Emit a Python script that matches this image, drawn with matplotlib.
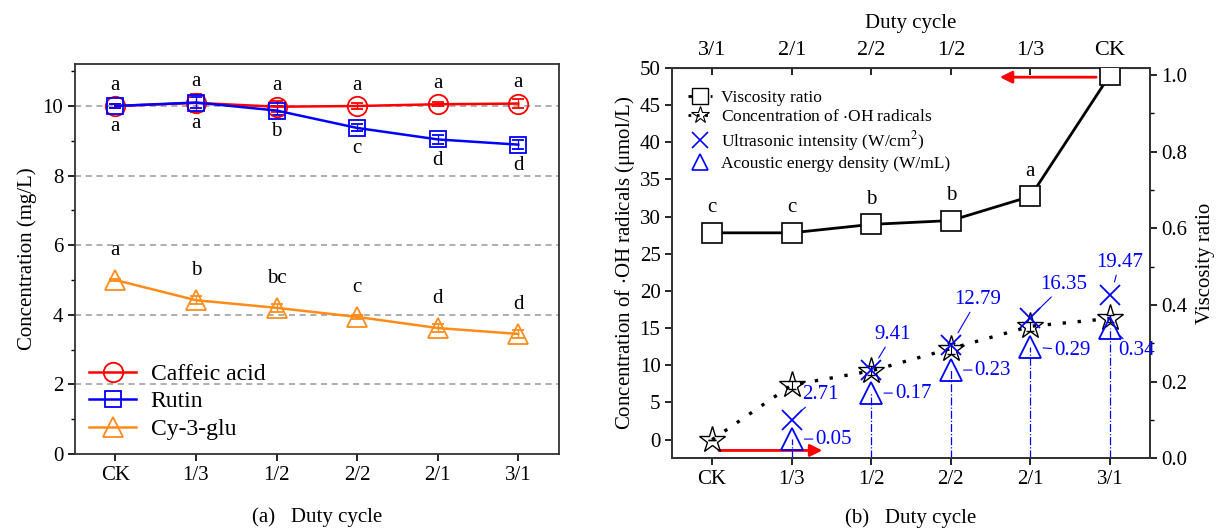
import numpy as np
import matplotlib
matplotlib.use("Agg")
import matplotlib.pyplot as plt
from matplotlib.lines import Line2D

plt.rcParams['font.family'] = ['Liberation Serif', 'DejaVu Serif']
plt.rcParams['mathtext.fontset'] = 'stix'

# ---------- data: panel (a) ----------
duty = ['CK', '1/3', '1/2', '2/2', '2/1', '3/1']
caffeic = [10.0, 10.09, 9.98, 10.0, 10.05, 10.07]
caffeic_err = [0.05, 0.25, 0.15, 0.08, 0.06, 0.12]
rutin = [10.0, 10.1, 9.87, 9.37, 9.04, 8.89]
rutin_err = [0.05, 0.15, 0.12, 0.1, 0.12, 0.12]
cy3glu = [5.0, 4.42, 4.2, 3.94, 3.62, 3.45]
cy3glu_err = [0.03, 0.12, 0.12, 0.05, 0.12, 0.12]
caffeic_letters = ['a', 'a', 'a', 'a', 'a', 'a']
rutin_letters = ['a', 'a', 'b', 'c', 'd', 'd']
cy_letters = ['a', 'b', 'bc', 'c', 'd', 'd']

# ---------- data: panel (b) ----------
duty_top = ['3/1', '2/1', '2/2', '1/2', '1/3', 'CK']
viscosity = [0.588, 0.588, 0.61, 0.62, 0.683, 1.0]
viscosity_err = [0.015, 0.015, 0.0, 0.015, 0.015, 0.01]
visc_letters = ['c', 'c', 'b', 'b', 'a', '']
oh_conc = [0.0, 7.35, 9.25, 12.25, 15.25, 16.3]
oh_err = [0.0, 0.5, 0.6, 0.7, 0.6, 0.5]
intensity = [np.nan, 2.71, 9.41, 12.79, 16.35, 19.47]
energy = [np.nan, 0.05, 0.17, 0.23, 0.29, 0.34]

fig = plt.figure(figsize=(12.18, 5.31), dpi=100)

# ================= (a) =================
ax = fig.add_axes([0.0616, 0.145, 0.397, 0.734])
x = np.arange(len(duty))
for yv in [2, 4, 6, 8, 10]:
    ax.axhline(yv, color='#999999', ls=(0, (4, 3)), lw=1.1, zorder=0)

series = [(caffeic, caffeic_err, 'red', 'o', 'Caffeic acid'),
          (rutin, rutin_err, 'blue', 's', 'Rutin'),
          (cy3glu, cy3glu_err, '#ff8c1a', '^', 'Cy-3-glu')]
for vals, err, c, m, lab in series:
    ax.errorbar(x, vals, yerr=err, color=c, marker=m, ms=14 if m != 's' else 12,
                mfc='none', mew=1.3, lw=1.8, capsize=4, elinewidth=0.9,
                label=lab, zorder=3)

for xi, v, t in zip(x, caffeic, caffeic_letters):
    ax.text(xi, v + 0.6, t, ha='center', va='center', fontsize=15)
for xi, v, t in zip(x, rutin, rutin_letters):
    ax.text(xi, v - 0.6, t, ha='center', va='center', fontsize=15)
for xi, v, t in zip(x, cy3glu, cy_letters):
    ax.text(xi, v + 0.85, t, ha='center', va='center', fontsize=15)

ax.set_xlim(-0.5, 5.5)
ax.set_ylim(0, 11.2)
ax.set_xticks(x, duty)
ax.set_yticks([0, 2, 4, 6, 8, 10])
ax.set_yticks([1, 3, 5, 7, 9, 11], minor=True)
ax.tick_params(labelsize=15, width=1.2, length=5)
ax.tick_params(which='minor', length=3, width=1.0)
ax.set_ylabel('Concentration (mg/L)', fontsize=15)
ax.set_xlabel('(a)   Duty cycle', fontsize=15, labelpad=16)
for s in ax.spines.values():
    s.set_linewidth(1.3)
    s.set_color('#333333')
handles = [Line2D([], [], color=c, marker=m, ms=14 if m != 's' else 12, mfc='none',
                  mew=1.3, lw=1.8) for _, _, c, m, _ in series]
ax.legend(handles, [s[4] for s in series], loc='lower left', frameon=False,
          fontsize=17, handlelength=2.0, labelspacing=0.25, handletextpad=0.6,
          borderaxespad=0.2, bbox_to_anchor=(0.0, 0.0))

# ================= (b) =================
axb = fig.add_axes([0.552, 0.137, 0.392, 0.735])
axr = axb.twinx()

# vertical dash-dot guides down from triangles
for xi, e in zip(x, energy):
    if not np.isnan(e):
        axr.plot([xi, xi], [0, e], color='blue', ls='-.', lw=0.9, zorder=1)

axb.errorbar(x, oh_conc, yerr=oh_err, color='black', marker='*', ms=20,
             mfc='none', mew=1.0, ls=(0, (1, 3.5)), lw=2.4, capsize=3,
             elinewidth=0.8, zorder=4)
axb.plot(x, intensity, ls='none', marker='x', ms=15, mew=1.3, color='blue', zorder=5)

# viscosity against the reversed top axis order
xv = np.arange(len(duty_top))
axr.errorbar(xv, viscosity, yerr=viscosity_err, color='black', marker='s', ms=15,
             mfc='white', mew=1.2, lw=2.0, capsize=3, elinewidth=0.8, zorder=4)
for xi, v, t in zip(xv, viscosity, visc_letters):
    axr.text(xi, v + 0.065, t, ha='center', va='center', fontsize=15)
axr.plot(x, energy, ls='none', marker='^', ms=16, mfc='none', mew=1.3,
         color='blue', zorder=5)

# number labels with leader lines (label offsets from each point)
int_offsets = [None, (0.36, 3.3), (0.27, 4.7), (0.33, 6.0), (0.42, 4.5), (0.12, 4.3)]
for xi, v, off in zip(x, intensity, int_offsets):
    if np.isnan(v):
        continue
    axb.annotate(f'{v:.2f}', xy=(xi + 0.02, v + 0.3), xytext=(xi + off[0], v + off[1]),
                 ha='center', va='center', fontsize=15, color='blue',
                 arrowprops=dict(arrowstyle='-', color='blue', lw=0.8,
                                 shrinkA=0, shrinkB=8))
en_offsets = [None, (0.3, 0.0), (0.3, 0.0), (0.3, 0.0), (0.3, -0.008), (0.1, -0.06)]
for xi, v, off in zip(x, energy, en_offsets):
    if np.isnan(v):
        continue
    axr.annotate(f'{v:.2f}', xy=(xi + 0.02, v), xytext=(xi + off[0], v + off[1]),
                 ha='left', va='center', fontsize=15, color='blue',
                 arrowprops=dict(arrowstyle='-', color='blue', lw=0.8,
                                 shrinkA=0, shrinkB=8))

# red direction arrows
axr.annotate('', xy=(3.58, 0.994), xytext=(4.86, 0.994),
             arrowprops=dict(arrowstyle='-|>', color='red', lw=2.0,
                             mutation_scale=18))
axb.annotate('', xy=(1.42, -1.45), xytext=(0.05, -1.45),
             arrowprops=dict(arrowstyle='-|>', color='red', lw=2.0,
                             mutation_scale=18))

axb.set_xlim(-0.5, 5.5)
axb.set_ylim(-2.5, 50)
axr.set_ylim(0, 1.018)
axb.set_xticks(x, duty)
axb.set_yticks(np.arange(0, 51, 5))
axr.set_yticks([0.0, 0.2, 0.4, 0.6, 0.8, 1.0])
axr.set_yticks([0.1, 0.3, 0.5, 0.7, 0.9], minor=True)
axb.tick_params(labelsize=15, width=1.2, length=5)
axr.tick_params(labelsize=15, width=1.2, length=5)
axr.tick_params(which='minor', length=3, width=1.0)
axb.set_ylabel('Concentration of $\\cdot$OH radicals (μmol/L)', fontsize=15,
               labelpad=2)
axr.set_ylabel('Viscosity ratio', fontsize=15, labelpad=6)
axb.set_xlabel('(b)   Duty cycle', fontsize=15, labelpad=14)

top = axb.secondary_xaxis('top')
top.set_xticks(xv, duty_top)
top.tick_params(direction='in', labelsize=16, width=1.2, length=5, pad=6)
top.set_xlabel('Duty cycle', fontsize=15, labelpad=9)

for a in (axb, axr):
    for s in a.spines.values():
        s.set_linewidth(1.3)
        s.set_color('#333333')

leg_handles = [
    Line2D([], [], color='black', marker='s', ms=11, mfc='white', mew=1.0,
           ls=(0, (2, 2)), lw=2.0),
    Line2D([], [], color='black', marker='*', ms=13, mfc='none', mew=0.8,
           ls=(0, (1, 2)), lw=2.0),
    Line2D([], [], color='blue', marker='x', ms=12, mew=1.2, ls='none'),
    Line2D([], [], color='blue', marker='^', ms=12, mfc='none', mew=1.2, ls='none'),
]
leg_labels = ['Viscosity ratio', 'Concentration of $\\cdot$OH radicals',
              'Ultrasonic intensity (W/cm$^2$)', 'Acoustic energy density (W/mL)']
axb.legend(leg_handles, leg_labels, loc='upper left', frameon=False, fontsize=12.5,
           handlelength=1.4, handletextpad=0.5, labelspacing=0.2,
           bbox_to_anchor=(0.0, 0.985))

fig.savefig('out.png', dpi=100)
